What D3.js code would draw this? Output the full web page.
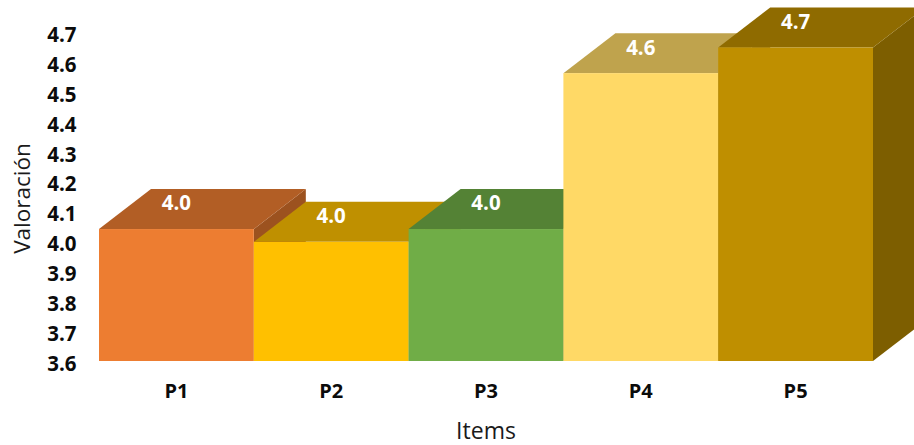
<!DOCTYPE html>
<html><head><meta charset="utf-8">
<script src="https://cdn.jsdelivr.net/npm/d3@7/dist/d3.min.js"></script>
<style>html,body{margin:0;padding:0;background:#fff}svg{display:block}text{font-family:"Open Sans",sans-serif}</style>
</head><body><div id="c"></div>
<script>
const categories = ["P1","P2","P3","P4","P5"];
const values = [4.063,4.018,4.063,4.61,4.70];
const valueLabels = ["4.0","4.0","4.0","4.6","4.7"];
const tickValues = [3.6,3.7,3.8,3.9,4.0,4.1,4.2,4.3,4.4,4.5,4.6,4.7];
const frontColors = ["#ED7D31","#FFC000","#70AD47","#FFD966","#BF8F00"];
const topColors = ["#B25E25","#BF9000","#548235","#BFA34D","#8F6B00"];
const sideColors = ["#9C521F","#A67D00","#4A7230","#A68D42","#7D5E00"];
const W=914,H=445,depthX=52,depthY=40;
const svg=d3.select("#c").append("svg").attr("width",W).attr("height",H);
const x=d3.scaleBand().domain(categories).range([99,873]).padding(0);
const y=d3.scaleLinear().domain([3.6,4.7]).range([361,47.5]);
const yAxisScale=d3.scaleLinear().domain([3.6,4.7]).range([363,34]);
const poly=pts=>pts.map(p=>p.join(",")).join(" ");
const bars=svg.append("g").selectAll("g").data(categories).join("g");
bars.append("polygon").attr("fill",(d,i)=>sideColors[i]).attr("points",(d,i)=>{const r=x(d)+x.bandwidth(),t=y(values[i]),b=y(3.6);
  return poly([[r,t],[r+depthX,t-depthY],[r+depthX,b-depthY],[r,b]]);});
bars.append("polygon").attr("fill",(d,i)=>topColors[i]).attr("points",(d,i)=>{const l=x(d),r=l+x.bandwidth(),t=y(values[i]);
  return poly([[l,t],[l+depthX,t-depthY],[r+depthX,t-depthY],[r,t]]);});
bars.append("rect").attr("fill",(d,i)=>frontColors[i]).attr("x",d=>x(d)).attr("width",x.bandwidth())
  .attr("y",(d,i)=>y(values[i])).attr("height",(d,i)=>y(3.6)-y(values[i]));
svg.append("g").selectAll("text").data(categories).join("text")
  .attr("x",d=>x(d)+x.bandwidth()/2).attr("y",(d,i)=>y(values[i])-26).attr("dy","0.36em")
  .attr("text-anchor","middle").attr("fill","#fff").attr("font-weight",700).attr("font-size",20.5)
  .text((d,i)=>valueLabels[i]);
const ya=svg.append("g").attr("transform","translate(76.5,0)").call(d3.axisLeft(yAxisScale).tickValues(tickValues).tickFormat(d3.format(".1f")).tickSize(0).tickPadding(0));
ya.select(".domain").remove();
ya.selectAll("text").attr("font-size",20.5).attr("font-weight",700).attr("fill","#0b0b0b").attr("font-family",'"Open Sans",sans-serif').attr("dy","0.36em");
const xa=svg.append("g").attr("transform","translate(0,384)").call(d3.axisBottom(x).tickSize(0).tickPadding(0));
xa.select(".domain").remove();
xa.selectAll("text").attr("font-size",20).attr("font-weight",700).attr("fill","#0b0b0b").attr("font-family",'"Open Sans",sans-serif').attr("dy","0.71em");
svg.append("text").attr("x",486).attr("y",431).attr("dy","0.36em").attr("text-anchor","middle").attr("font-size",23).attr("fill","#1a1a1a").text("Items");
svg.append("text").attr("transform","translate(22,198.5) rotate(-90)").attr("dy","0.36em").attr("text-anchor","middle").attr("font-size",22.5).attr("fill","#1a1a1a").text("Valoración");
</script></body></html>
